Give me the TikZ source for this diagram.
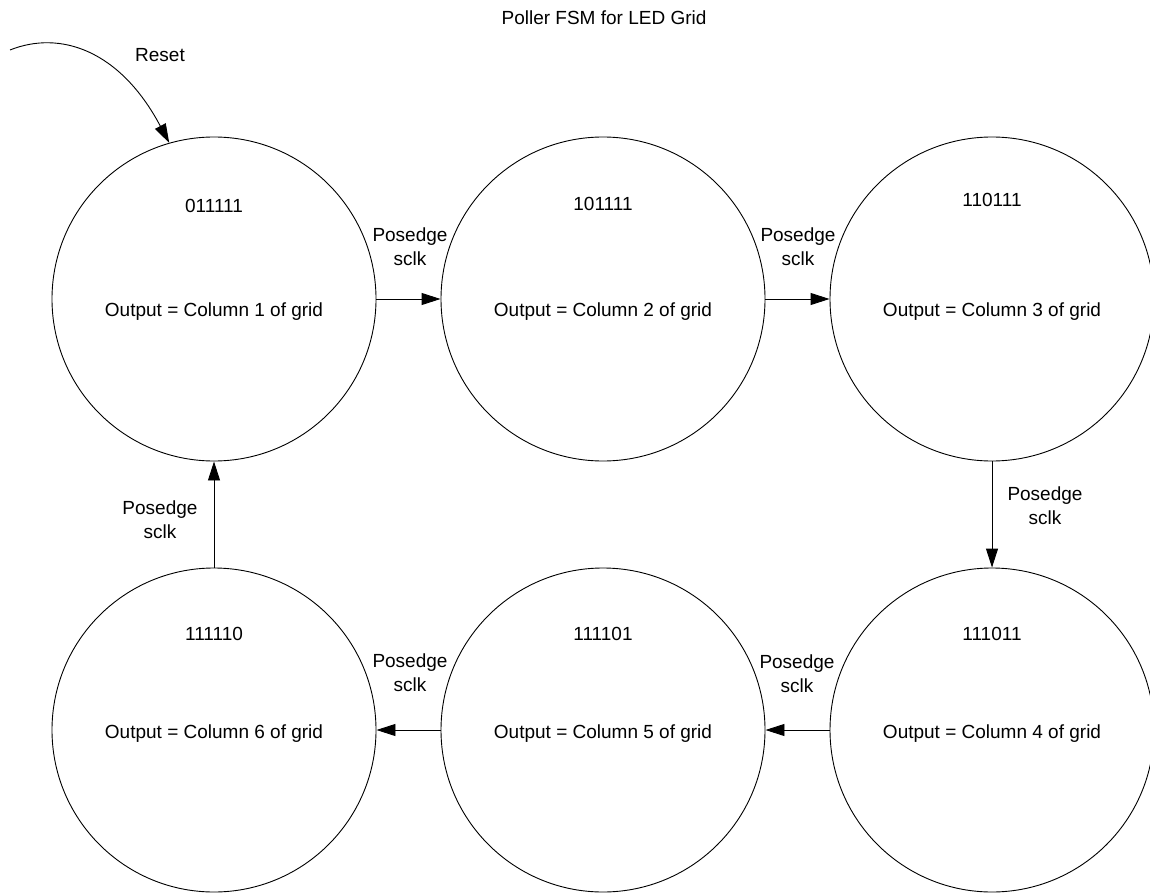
\documentclass[tikz,border=0pt]{standalone}
\usepackage{fontspec}
\setmainfont{Liberation Sans}
\usetikzlibrary{arrows.meta}
\begin{document}
\begin{tikzpicture}[x=1pt,y=-1pt,
  statecirc/.style={draw=black,circle,minimum size=324pt,inner sep=0pt,line width=0.9pt},
  lbl/.style={font=\fontsize{19}{24}\selectfont,inner sep=0pt,align=center},
  txt/.style={font=\fontsize{19}{23}\selectfont,inner sep=0pt,anchor=base},
  trans/.style={draw=black,line width=0.9pt,-{Triangle[length=19pt,width=12pt]}}]
\useasboundingbox (0,0) rectangle (1150,893);
\clip (0,0) rectangle (1150,893);
\fill[white] (0,0) rectangle (1150,893);

\node[txt,anchor=center] (title) at (604,18) {Poller FSM for LED Grid};

\node[statecirc] (c1) at (214,299) {};
\node[statecirc] (c2) at (603,299) {};
\node[statecirc] (c3) at (992,299) {};
\node[statecirc] (c4) at (992,730) {};
\node[statecirc] (c5) at (603,730) {};
\node[statecirc] (c6) at (214,730) {};

\node[txt] (k1) at (214,213) {011111};
\node[txt] (k2) at (603,211) {101111};
\node[txt] (k3) at (992,207) {110111};
\node[txt] (k4) at (992,640) {111011};
\node[txt] (k5) at (603,640) {111101};
\node[txt] (k6) at (214,640) {111110};

\node[txt] (o1) at (214,316) {Output = Column 1 of grid};
\node[txt] (o2) at (603,316) {Output = Column 2 of grid};
\node[txt] (o3) at (992,316) {Output = Column 3 of grid};
\node[txt] (o4) at (992,738) {Output = Column 4 of grid};
\node[txt] (o5) at (603,738) {Output = Column 5 of grid};
\node[txt] (o6) at (214,738) {Output = Column 6 of grid};

\draw[trans] (c1.east) -- (c2.west);
\draw[trans] (c2.east) -- (c3.west);
\draw[trans] (c3.south) -- (c4.north);
\draw[trans] (c4.west) -- (c5.east);
\draw[trans] (c5.west) -- (c6.east);
\draw[trans] (c6.north) -- (c1.south);

\node[lbl] (l12) at (410,247) {Posedge\\sclk};
\node[lbl] (l23) at (798,247) {Posedge\\sclk};
\node[lbl] (l34) at (1045,506) {Posedge\\sclk};
\node[lbl] (l45) at (797,674) {Posedge\\sclk};
\node[lbl] (l56) at (410,673) {Posedge\\sclk};
\node[lbl] (l61) at (160,520) {Posedge\\sclk};

\coordinate (rs) at (10,50);
\draw[trans] (rs) .. controls (60,30) and (120,50) .. (c1.106.8);
\node[txt,anchor=center] (reset) at (160,55) {Reset};
\end{tikzpicture}
\end{document}
